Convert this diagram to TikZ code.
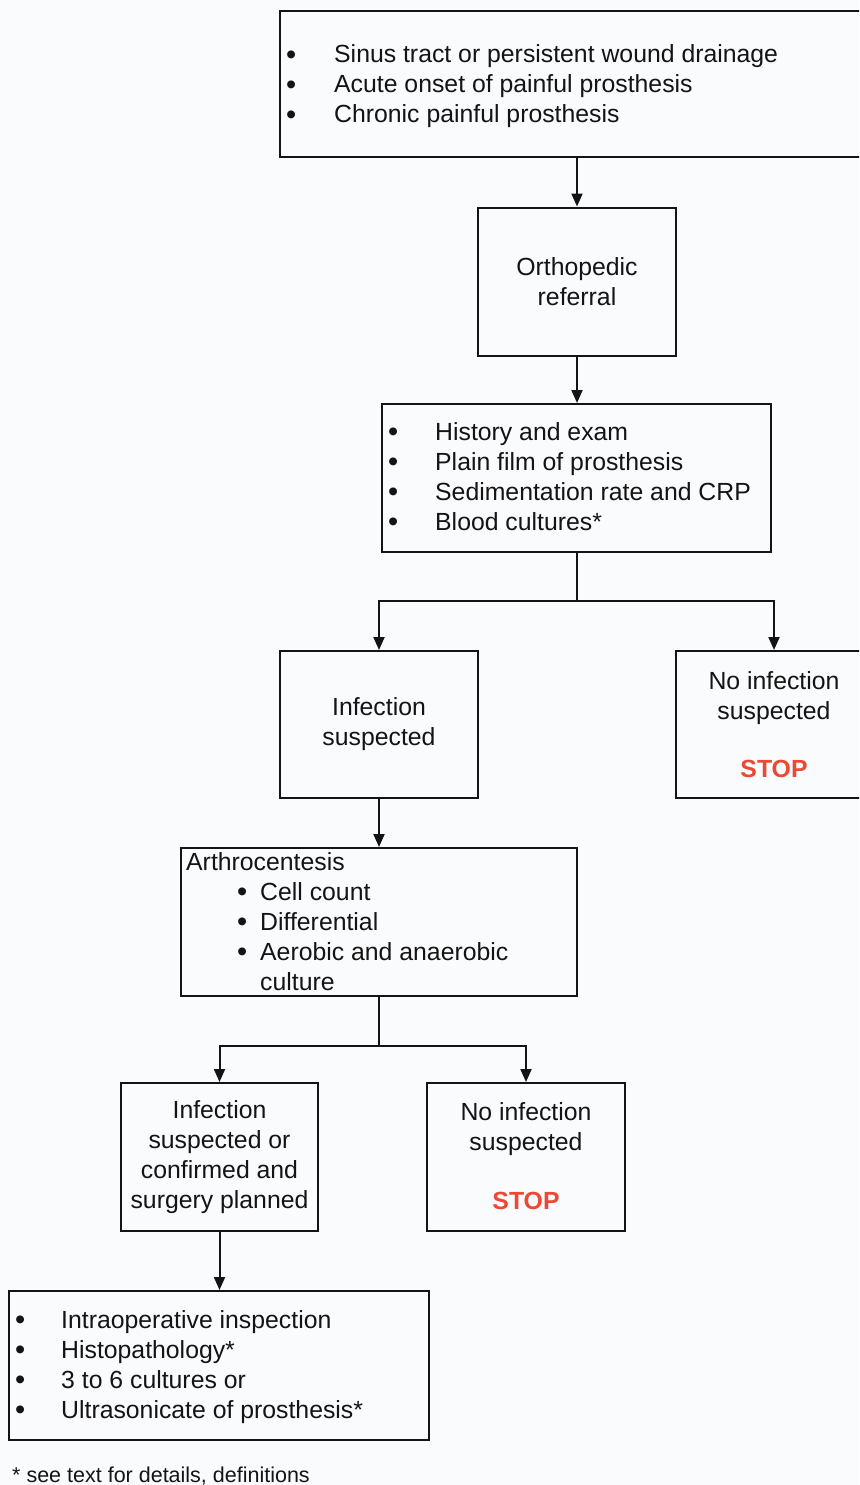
\documentclass[tikz,border=0pt]{standalone}
\usepackage{fontspec}
\setmainfont{Liberation Sans}
\usetikzlibrary{arrows.meta}
\definecolor{stopred}{RGB}{236,72,52}
\definecolor{bg}{RGB}{250,251,253}
\definecolor{ink}{RGB}{20,20,20}
\begin{document}
\begin{tikzpicture}[x=1pt,y=-1pt,
  box/.style={draw=ink, line width=2pt, inner sep=0pt},
  txt/.style={font=\fontsize{24.8}{30}\selectfont, inner sep=0pt, text=ink},
  lt/.style={txt, anchor=base west},
  bul/.style={font=\fontsize{29}{30}\selectfont, inner sep=0pt, text=ink, anchor=base west},
  ct/.style={txt, anchor=base},
  stoptxt/.style={font=\fontsize{24.8}{30}\selectfont\bfseries, inner sep=0pt, text=stopred, anchor=base},
  arr/.style={draw=ink, line width=2pt, -{Triangle[width=11pt,length=13pt]}},
  ln/.style={draw=ink, line width=2pt}]
\useasboundingbox (0,0) rectangle (859,1485);
\clip (0,0) rectangle (859,1485);
\fill[bg] (0,0) rectangle (859,1485);

% boxes
\node[box, minimum width=592pt, minimum height=146pt] (top) at (576,84) {};
\node[box, txt, align=center, minimum width=198pt, minimum height=148pt] (ortho) at (577,281.5) {Orthopedic\\referral};
\node[box, minimum width=389pt, minimum height=148pt] (hist) at (576.5,478) {};
\node[box, txt, align=center, minimum width=198pt, minimum height=147pt] (infs) at (379,724.5) {Infection\\suspected};
\node[box, minimum width=196pt, minimum height=147pt] (noinfa) at (774,724.5) {};
\node[box, minimum width=396pt, minimum height=148pt] (arth) at (379,922) {};
\node[box, txt, align=center, minimum width=197pt, minimum height=148pt] (infc) at (219.5,1157) {Infection\\suspected or\\confirmed and\\surgery planned};
\node[box, minimum width=198pt, minimum height=148pt] (noinfb) at (526,1157) {};
\node[box, minimum width=420pt, minimum height=149pt] (final) at (219,1365.5) {};

% top box text
\node[bul] (tb1) at (286,64.5) {•};
\node[bul] (tb2) at (286,94.5) {•};
\node[bul] (tb3) at (286,124.5) {•};
\node[lt] (tt1) at (334,63) {Sinus tract or persistent wound drainage};
\node[lt] (tt2) at (334,93) {Acute onset of painful prosthesis};
\node[lt] (tt3) at (334,123) {Chronic painful prosthesis};

% history text
\node[bul] (hb1) at (388,441.5) {•};
\node[bul] (hb2) at (388,471.5) {•};
\node[bul] (hb3) at (388,501.5) {•};
\node[bul] (hb4) at (388,531.5) {•};
\node[lt] (ht1) at (435,440) {History and exam};
\node[lt] (ht2) at (435,470) {Plain film of prosthesis};
\node[lt] (ht3) at (435,500) {Sedimentation rate and CRP};
\node[lt] (ht4) at (435,530) {Blood cultures*};

% no infection (upper)
\node[ct] (na1) at (774,689) {No infection};
\node[ct] (na2) at (774,719) {suspected};
\node[stoptxt] (na3) at (774,777) {STOP};

% arthrocentesis text
\node[lt] (at0) at (186,870) {Arthrocentesis};
\node[bul] (ab1) at (237,901.5) {•};
\node[bul] (ab2) at (237,931.5) {•};
\node[bul] (ab3) at (237,961.5) {•};
\node[lt] (at1) at (260,900) {Cell count};
\node[lt] (at2) at (260,930) {Differential};
\node[lt] (at3) at (260,960) {Aerobic and anaerobic};
\node[lt] (at4) at (260,990) {culture};

% no infection (lower)
\node[ct] (nb1) at (526,1120) {No infection};
\node[ct] (nb2) at (526,1150) {suspected};
\node[stoptxt] (nb3) at (526,1209) {STOP};

% final box text
\node[bul] (fb1) at (15,1329.5) {•};
\node[bul] (fb2) at (15,1359.5) {•};
\node[bul] (fb3) at (15,1389.5) {•};
\node[bul] (fb4) at (15,1419.5) {•};
\node[lt] (ft1) at (61,1328) {Intraoperative inspection};
\node[lt] (ft2) at (61,1358) {Histopathology*};
\node[lt] (ft3) at (61,1388) {3 to 6 cultures or};
\node[lt] (ft4) at (61,1418) {Ultrasonicate of prosthesis*};

% footnote
\node[font=\fontsize{21.5}{26}\selectfont, inner sep=0pt, text=ink, anchor=base west] (foot) at (12,1482) {* see text for details, definitions};

% connectors
\draw[arr] (ortho.north |- top.south) -- (ortho.north);
\draw[arr] (ortho.south) -- (ortho.south |- hist.north);
\coordinate (b1) at (577,601);
\draw[ln] (hist.south -| b1) -- (b1);
\draw[arr] (b1) -| (infs.north);
\draw[arr] (b1) -| (noinfa.north);
\draw[arr] (infs.south) -- (infs.south |- arth.north);
\coordinate (b2) at (379,1046);
\draw[ln] (arth.south -| b2) -- (b2);
\draw[arr] (b2) -| (infc.north);
\draw[arr] (b2) -| (noinfb.north);
\draw[arr] (infc.south) -- (infc.south |- final.north);
\end{tikzpicture}
\end{document}
